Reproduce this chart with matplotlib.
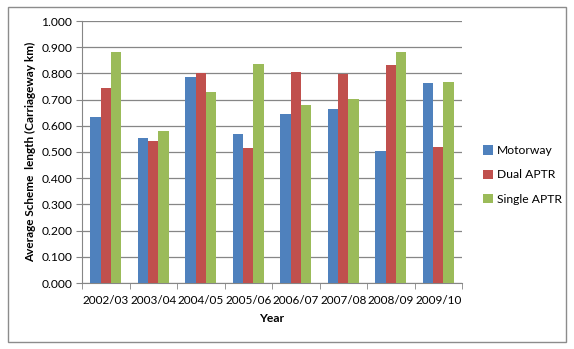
import numpy as np
import matplotlib
matplotlib.use("Agg")
import matplotlib.pyplot as plt
from matplotlib.patches import Rectangle

plt.rcParams['font.family'] = ['Lato', 'DejaVu Sans']

# Average scheme length by year and scheme type
years = ['2002/03', '2003/04', '2004/05', '2005/06', '2006/07', '2007/08', '2008/09', '2009/10']
motorway = [0.634, 0.552, 0.785, 0.569, 0.645, 0.663, 0.505, 0.763]
dual_aptr = [0.745, 0.541, 0.800, 0.515, 0.804, 0.798, 0.832, 0.520]
single_aptr = [0.880, 0.580, 0.728, 0.836, 0.681, 0.701, 0.883, 0.768]

series = [
    ('Motorway', motorway, '#4F81BD'),
    ('Dual APTR', dual_aptr, '#C0504D'),
    ('Single APTR', single_aptr, '#9BBB59'),
]

fig = plt.figure(figsize=(5.74, 3.49), dpi=100)
ax = fig.add_axes([82 / 574, 1 - 283 / 349, 380 / 574, 262 / 349])

# chart border
fig.patches.append(Rectangle((8 / 574, 1 - 342 / 349), 558 / 574, 335 / 349,
                             transform=fig.transFigure, fill=False,
                             edgecolor='#8c8c8c', linewidth=1.0))

x = np.arange(len(years))
w = 0.218
for i, (name, vals, col) in enumerate(series):
    ax.bar(x + (i - 1) * w, vals, w, color=col, label=name, zorder=3)

ax.set_xlim(-0.5, len(years) - 0.5)
ax.set_ylim(0, 1.0)
ax.set_yticks(np.arange(0, 1.01, 0.1))
ax.set_yticklabels([f'{v:.3f}' for v in np.arange(0, 1.01, 0.1)], fontsize=8.7)
ax.yaxis.grid(True, color='#868686', linewidth=0.9, zorder=0)

# category labels in the middle, tick marks between categories
ax.set_xticks(x)
ax.set_xticklabels(years, fontsize=8.5)
ax.tick_params(axis='x', length=0, pad=9)
ax.set_xticks(np.arange(-0.5, len(years)), minor=True)
ax.tick_params(axis='x', which='minor', length=4, color='#868686', direction='out')
ax.tick_params(axis='y', length=4, color='#868686', direction='out', pad=3)

for s in ['top', 'right']:
    ax.spines[s].set_visible(False)
for s in ['left', 'bottom']:
    ax.spines[s].set_color('#868686')

ax.set_xlabel('Year', fontsize=8.7, fontweight='bold', labelpad=5)
ax.set_ylabel('Average Scheme  length (Carriageway km)', fontsize=8.5,
              fontweight='bold', labelpad=4)

ax.legend(loc='center left', bbox_to_anchor=(472 / 574, 174 / 349),
          bbox_transform=fig.transFigure, frameon=False, fontsize=8.7,
          handlelength=0.8, handleheight=0.8, handletextpad=0.35,
          labelspacing=1.1)

fig.savefig('out.png', dpi=100)
